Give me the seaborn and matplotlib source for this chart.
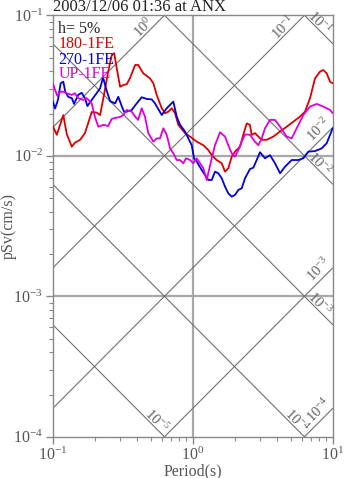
import numpy as np
import pandas as pd
import matplotlib
matplotlib.use("Agg")
import matplotlib.pyplot as plt
from matplotlib.ticker import LogLocator, LogFormatterSciNotation, NullFormatter
import seaborn as sns

# ---- response spectra (period in s, pseudo-velocity in cm/s) ----
period_180 = [0.100, 0.107, 0.119, 0.126, 0.137, 0.144, 0.157, 0.170, 0.190, 0.206,
              0.218, 0.230, 0.249, 0.264, 0.275, 0.288, 0.303, 0.319, 0.338, 0.356,
              0.388, 0.408, 0.444, 0.495, 0.524, 0.553, 0.601, 0.634, 0.670, 0.708,
              0.748, 0.789, 0.881, 0.957, 1.069, 1.191, 1.291, 1.368, 1.483, 1.611,
              1.702, 1.795, 1.901, 2.004, 2.178, 2.296, 2.432, 2.564, 2.636, 2.786,
              2.944, 3.112, 3.381, 3.767, 4.207, 4.688, 5.236, 5.834, 6.339, 6.887,
              7.482, 8.110, 8.570, 9.057, 9.572, 10.0]
psv_180 = [0.0163, 0.0141, 0.0195, 0.0143, 0.0116, 0.0124, 0.0130, 0.0145, 0.0205, 0.0203,
           0.0195, 0.0257, 0.0397, 0.0521, 0.0537, 0.0408, 0.0310, 0.0319, 0.0323, 0.0356,
           0.0443, 0.0443, 0.0386, 0.0356, 0.0328, 0.0271, 0.0218, 0.0201, 0.0206, 0.0218,
           0.0201, 0.0166, 0.0145, 0.0137, 0.0126, 0.0119, 0.0110, 0.0101, 0.00933, 0.00885,
           0.00771, 0.00815, 0.00986, 0.0107, 0.0116, 0.0141, 0.0170, 0.0166, 0.0141, 0.0145,
           0.0137, 0.0130, 0.0130, 0.0137, 0.0149, 0.0161, 0.0175, 0.0190, 0.0206, 0.0257,
           0.0356, 0.0397, 0.0408, 0.0386, 0.0337, 0.0328]

period_270 = [0.100, 0.104, 0.109, 0.114, 0.119, 0.123, 0.129, 0.137, 0.142, 0.152,
              0.161, 0.170, 0.177, 0.190, 0.206, 0.218, 0.229, 0.242, 0.257, 0.279,
              0.294, 0.311, 0.323, 0.338, 0.367, 0.398, 0.432, 0.469, 0.510, 0.538,
              0.601, 0.652, 0.727, 0.769, 0.812, 0.881, 0.930, 0.984, 1.022, 1.069,
              1.159, 1.224, 1.292, 1.368, 1.443, 1.524, 1.611, 1.702, 1.795, 1.901,
              2.004, 2.117, 2.239, 2.364, 2.564, 2.710, 2.865, 3.025, 3.284, 3.566,
              3.871, 4.207, 4.563, 5.095, 5.679, 6.166, 6.695, 7.474, 8.345, 9.062, 10.0]
psv_270 = [0.0245, 0.0217, 0.0250, 0.0328, 0.0337, 0.0285, 0.0263, 0.0257, 0.0234, 0.0271,
           0.0281, 0.0257, 0.0226, 0.0250, 0.0279, 0.0302, 0.0361, 0.0294, 0.0245, 0.0236,
           0.0263, 0.0226, 0.0206, 0.0206, 0.0212, 0.0236, 0.0261, 0.0254, 0.0252, 0.0236,
           0.0195, 0.0218, 0.0243, 0.0190, 0.0166, 0.0149, 0.0133, 0.0119, 0.00960, 0.00908,
           0.00793, 0.00730, 0.00673, 0.00673, 0.00771, 0.00751, 0.00692, 0.00603, 0.00541, 0.00512,
           0.00526, 0.00571, 0.00587, 0.00692, 0.00805, 0.00823, 0.00933, 0.0106, 0.00960, 0.0101,
           0.00885, 0.00751, 0.00836, 0.00933, 0.00933, 0.00960, 0.0107, 0.0108, 0.0113, 0.0123,
           0.0157]

period_up = [0.100, 0.104, 0.108, 0.113, 0.119, 0.126, 0.137, 0.144, 0.152, 0.165,
             0.175, 0.190, 0.200, 0.212, 0.230, 0.249, 0.264, 0.279, 0.303, 0.319,
             0.338, 0.367, 0.388, 0.408, 0.432, 0.456, 0.482, 0.523, 0.553, 0.584,
             0.617, 0.652, 0.689, 0.727, 0.769, 0.812, 0.857, 0.896, 0.957, 1.010,
             1.069, 1.191, 1.259, 1.368, 1.443, 1.567, 1.702, 1.795, 1.901, 2.004,
             2.117, 2.239, 2.364, 2.564, 2.786, 2.944, 3.112, 3.284, 3.566, 3.871,
             4.207, 4.688, 5.095, 5.533, 6.166, 6.887, 7.686, 8.568, 9.572, 10.0]
psv_up = [0.0328, 0.0294, 0.0267, 0.0285, 0.0286, 0.0279, 0.0271, 0.0279, 0.0257, 0.0250,
          0.0257, 0.0236, 0.0190, 0.0161, 0.0166, 0.0163, 0.0183, 0.0186, 0.0189, 0.0195,
          0.0212, 0.0206, 0.0190, 0.0180, 0.0218, 0.0190, 0.0145, 0.0126, 0.0133, 0.0133,
          0.0157, 0.0141, 0.0113, 0.0104, 0.00933, 0.00933, 0.00885, 0.00960, 0.00933, 0.00885,
          0.00960, 0.00815, 0.00673, 0.00960, 0.0119, 0.0147, 0.0137, 0.0119, 0.0104, 0.00986,
          0.0110, 0.0126, 0.0142, 0.0141, 0.0126, 0.0119, 0.0133, 0.0157, 0.0180, 0.0180,
          0.0161, 0.0137, 0.0133, 0.0157, 0.0195, 0.0224, 0.0234, 0.0224, 0.0212, 0.0201]

series_names = ["180-1FE", "270-1FE", "UP-1FE"]
series_colors = ["#dd0000", "#0000dd", "#dd00dd"]

# tripartite guide levels
disp_levels = [1e-5, 1e-4, 1e-3, 1e-2, 1e-1]   # spectral displacement (cm)
acc_levels = [1e-4, 1e-3, 1e-2, 1e-1, 1e0]      # spectral acceleration (cm/s^2)

title_text = "2003/12/06 01:36 at ANX"
damping_text = "h= 5%"

T_MIN, T_MAX = 0.1, 10.0
SV_MIN, SV_MAX = 1e-4, 1e-1

sns.set_theme(style="white")
plt.rcParams["font.family"] = ["Liberation Serif", "DejaVu Serif"]
plt.rcParams["mathtext.fontset"] = "custom"
plt.rcParams["mathtext.rm"] = "Liberation Serif"
plt.rcParams["mathtext.it"] = "Liberation Serif:italic"
plt.rcParams["mathtext.bf"] = "Liberation Serif:bold"

fig = plt.figure(figsize=(3.47, 4.78), dpi=100)
ax = fig.add_axes([0.1519, 0.0862, 0.9588 - 0.1519, 0.968 - 0.0862])
ax.set_xscale("log")
ax.set_yscale("log")
ax.set_xlim(T_MIN, T_MAX)
ax.set_ylim(SV_MIN, SV_MAX)

grid_col = "#a8a8a8"
diag_col = "#707070"
label_col = "#606060"
ax.axvline(1.0, color=grid_col, lw=1.6, zorder=1)
for yv in (1e-2, 1e-3):
    ax.axhline(yv, color=grid_col, lw=1.6, zorder=1)

t_line = np.logspace(-1, 1, 200)
two_pi = 2 * np.pi

# constant-displacement lines (slope -1) with labels at their exit point
for sd in disp_levels:
    ax.plot(t_line, two_pi * sd / t_line, color=diag_col, lw=0.8, zorder=1)
    sv_right = two_pi * sd / T_MAX
    if sv_right >= SV_MIN:
        end = (T_MAX, sv_right)
        off = (-13, 21)
    else:
        end = (two_pi * sd / SV_MIN, SV_MIN)
        off = (-8, 16)
    exp = int(round(np.log10(sd)))
    ax.annotate(r"$10^{%d}$" % exp, xy=end, xytext=off, textcoords="offset pixels",
                rotation=-45, ha="center", va="center", fontsize=10.5, color=label_col,
                annotation_clip=False)

# constant-acceleration lines (slope +1)
for sa in acc_levels:
    ax.plot(t_line, sa * t_line / two_pi, color=diag_col, lw=0.8, zorder=1)
    t_top = two_pi * SV_MAX / sa
    if t_top <= T_MAX:
        end = (t_top, SV_MAX)
        off = (-21, -12)
    else:
        end = (T_MAX, sa * T_MAX / two_pi)
        off = (-14, -2)
    exp = int(round(np.log10(sa)))
    ax.annotate(r"$10^{%d}$" % exp, xy=end, xytext=off, textcoords="offset pixels",
                rotation=45, ha="center", va="center", fontsize=10.5, color=label_col,
                annotation_clip=False)

# spectra
frames = []
for name, per, val in zip(series_names,
                          [period_180, period_270, period_up],
                          [psv_180, psv_270, psv_up]):
    frames.append(pd.DataFrame({"period": per, "psv": val, "component": name}))
data = pd.concat(frames, ignore_index=True)

sns.lineplot(data=data, x="period", y="psv", hue="component",
             palette=dict(zip(series_names, series_colors)),
             estimator=None, sort=False, lw=1.3, legend=False, ax=ax, zorder=3)
ax.set_xlim(T_MIN, T_MAX)
ax.set_ylim(SV_MIN, SV_MAX)

# legend as coloured text
legend_y = [0.9675, 0.9319, 0.8951, 0.8607]
ax.text(0.02, legend_y[0], damping_text, transform=ax.transAxes, fontsize=11.5,
        color="#222222", ha="left", va="center", zorder=4)
for yy, name, col in zip(legend_y[1:], series_names, series_colors):
    ax.text(0.02, yy, name, transform=ax.transAxes, fontsize=11.5,
            color=col, ha="left", va="center", zorder=4)

# axes styling
for sp in ax.spines.values():
    sp.set_color("#888888")
    sp.set_linewidth(1.0)
ax.xaxis.set_major_locator(LogLocator(base=10))
ax.yaxis.set_major_locator(LogLocator(base=10))
ax.xaxis.set_minor_locator(LogLocator(base=10, subs=np.arange(2, 10)))
ax.yaxis.set_minor_locator(LogLocator(base=10, subs=np.arange(2, 10)))
ax.xaxis.set_major_formatter(LogFormatterSciNotation())
ax.yaxis.set_major_formatter(LogFormatterSciNotation())
ax.xaxis.set_minor_formatter(NullFormatter())
ax.yaxis.set_minor_formatter(NullFormatter())
ax.tick_params(which="both", direction="out", color="#888888", labelcolor="#555555",
               labelsize=11.5, bottom=True, left=True)
ax.tick_params(which="major", length=5, width=1.0, pad=2)
ax.tick_params(which="minor", length=3, width=0.8)

ax.set_xlabel("Period(s)", fontsize=11.5, color="#555555")
ax.xaxis.set_label_coords(0.5, -0.062)
ax.set_ylabel("pSv(cm/s)", fontsize=11.5, color="#555555")
ax.yaxis.set_label_coords(-0.128, 0.5)
ax.set_title(title_text, fontsize=12, color="#222222", loc="left", pad=1.5)

fig.savefig("out.png", dpi=100)
